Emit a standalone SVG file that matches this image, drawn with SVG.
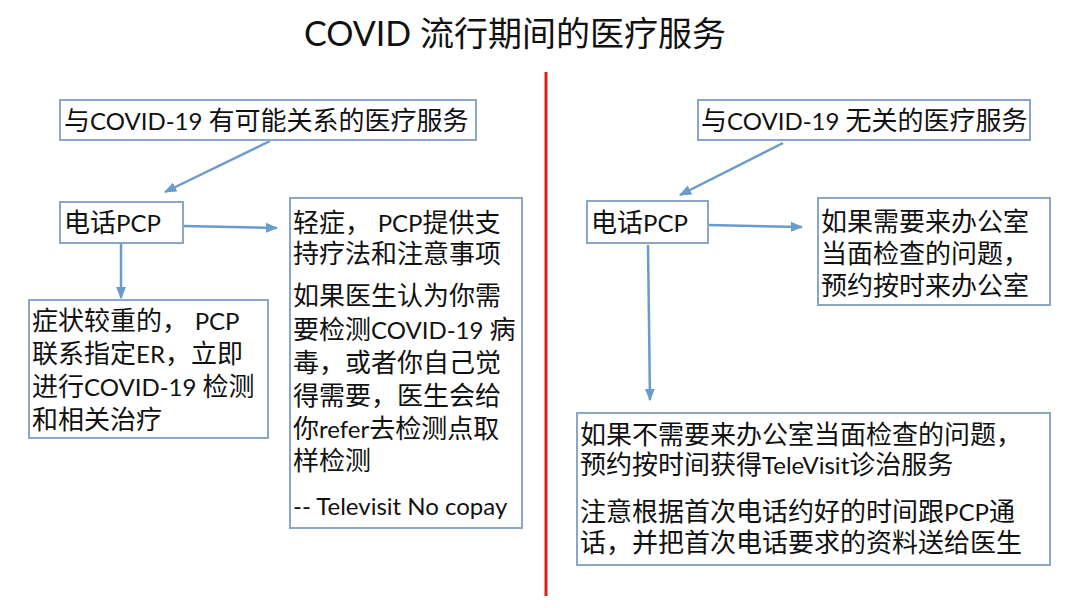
<svg xmlns="http://www.w3.org/2000/svg" width="1080" height="608" viewBox="0 0 1080 608">
<style>
text{font-family:Lato,"Noto Sans CJK SC",sans-serif;fill:#111;}
.t{font-size:26px;}
.l{font-size:24px;}
.box{fill:#fff;stroke:#8aa7c7;stroke-width:2;}
.c{stroke:#6a9bcf;stroke-width:2.5;fill:none;marker-end:url(#ah);}
</style>
<defs>
<marker id="ah" viewBox="0 0 10 10" refX="9" refY="5" markerWidth="5" markerHeight="5" orient="auto" markerUnits="strokeWidth">
<path d="M0,1 L10,5 L0,9 z" fill="#6a9bcf"/>
</marker>
</defs>
<rect width="1080" height="608" fill="#fff"/>
<text x="515" y="46" font-size="34" text-anchor="middle">COVID 流行期间的医疗服务</text>
<line x1="546" y1="72" x2="546" y2="596" stroke="#e0201c" stroke-width="3"/>
<g id="connectors">
<line class="c" x1="270" y1="141" x2="165" y2="192"/>
<line class="c" x1="183" y1="226" x2="277" y2="228"/>
<line class="c" x1="121" y1="244" x2="121" y2="298"/>
<line class="c" x1="783" y1="143" x2="680" y2="195"/>
<line class="c" x1="708" y1="225" x2="802" y2="227"/>
<line class="c" x1="648" y1="245" x2="650" y2="400"/>
</g>
<g id="n-left-top"><rect class="box" x="60" y="100" width="416" height="40"/><text class="t" x="64" y="130">与<tspan class="l">COVID-19 </tspan>有可能关系的医疗服务</text></g>
<g id="n-left-pcp"><rect class="box" x="60" y="202" width="123" height="41"/><text class="t" x="64" y="232">电话<tspan class="l">PCP</tspan></text></g>
<g id="n-left-severe"><rect class="box" x="29" y="300" width="239" height="138"/>
<text class="t" x="32" y="330">症状较重的， <tspan class="l">PCP</tspan></text>
<text class="t" x="32" y="363">联系指定<tspan class="l">ER</tspan>，立即</text>
<text class="t" x="32" y="396">进行<tspan class="l">COVID-19 </tspan>检测</text>
<text class="t" x="32" y="429">和相关治疗</text></g>
<g id="n-left-mild"><rect class="box" x="290" y="198" width="232" height="330"/>
<text class="t" x="293" y="232">轻症， <tspan class="l">PCP</tspan>提供支</text>
<text class="t" x="293" y="263">持疗法和注意事项</text>
<text class="t" x="293" y="305">如果医生认为你需</text>
<text class="t" x="293" y="339">要检测<tspan class="l">COVID-19 </tspan>病</text>
<text class="t" x="293" y="372">毒，或者你自己觉</text>
<text class="t" x="293" y="405">得需要，医生会给</text>
<text class="t" x="293" y="438">你<tspan class="l">refer</tspan>去检测点取</text>
<text class="t" x="293" y="470">样检测</text>
<text class="t" x="293" y="515"><tspan class="l">-- Televisit No copay</tspan></text></g>
<g id="n-right-top"><rect class="box" x="698" y="100" width="332" height="40"/><text class="t" x="701" y="130">与<tspan class="l">COVID-19 </tspan>无关的医疗服务</text></g>
<g id="n-right-pcp"><rect class="box" x="587" y="201" width="121" height="42"/><text class="t" x="591" y="232">电话<tspan class="l">PCP</tspan></text></g>
<g id="n-right-office"><rect class="box" x="818" y="198" width="232" height="107"/>
<text class="t" x="821" y="231">如果需要来办公室</text>
<text class="t" x="821" y="263">当面检查的问题，</text>
<text class="t" x="821" y="295">预约按时来办公室</text></g>
<g id="n-right-tele"><rect class="box" x="577" y="413" width="473" height="152"/>
<text class="t" x="580" y="444">如果不需要来办公室当面检查的问题，</text>
<text class="t" x="580" y="474">预约按时间获得<tspan class="l">TeleVisit</tspan>诊治服务</text>
<text class="t" x="580" y="521">注意根据首次电话约好的时间跟<tspan class="l">PCP</tspan>通</text>
<text class="t" x="580" y="552">话，并把首次电话要求的资料送给医生</text></g>
</svg>
